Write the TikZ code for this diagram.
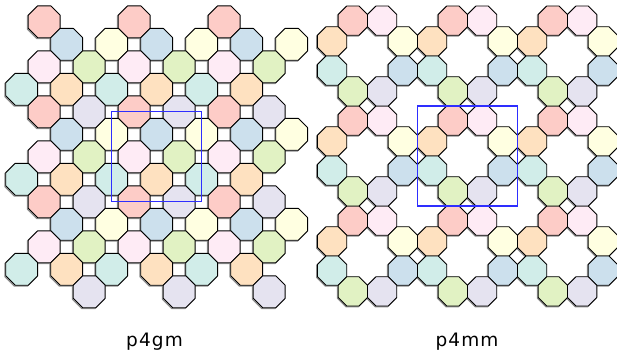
\documentclass[tikz,border=0pt]{standalone}
\usepackage{fontspec}
\setsansfont{DejaVu Sans}[LetterSpace=6]

% pastel fills (Set3 tints)
\definecolor{baseR}{HTML}{FB8072}
\definecolor{baseB}{HTML}{80B1D3}
\definecolor{baseY}{HTML}{FFFFB3}
\definecolor{baseP}{HTML}{FCCDE5}
\definecolor{baseG}{HTML}{B3DE69}
\definecolor{baseT}{HTML}{8DD3C7}
\definecolor{baseO}{HTML}{FDB462}
\definecolor{baseL}{HTML}{BEBADA}
\colorlet{cR}{baseR!40!white}
\colorlet{cB}{baseB!40!white}
\colorlet{cY}{baseY!40!white}
\colorlet{cP}{baseP!40!white}
\colorlet{cG}{baseG!40!white}
\colorlet{cT}{baseT!40!white}
\colorlet{cO}{baseO!40!white}
\colorlet{cL}{baseL!40!white}
\definecolor{cellblue}{HTML}{2E2EFF}

\tikzset{
  pics/octa/.style={code={
    \filldraw[fill=#1, draw=black, line width=0.9, line join=round]
      (22.5:\octR) -- (67.5:\octR) -- (112.5:\octR) -- (157.5:\octR) --
      (202.5:\octR) -- (247.5:\octR) -- (292.5:\octR) -- (337.5:\octR) -- cycle;
  }},
  pics/octshade/.style={code={
    \draw[black!45, line width=1.3, line join=round]
      (22.5:\octR) -- (67.5:\octR) -- (112.5:\octR) -- (157.5:\octR) --
      (202.5:\octR) -- (247.5:\octR) -- (292.5:\octR) -- (337.5:\octR) -- cycle;
  }},
  cellbox/.style={draw=cellblue, line width=1.3},
  caption/.style={font=\sffamily\fontsize{18.5}{22}\selectfont, anchor=base, inner sep=0pt}
}

\begin{document}
\begin{tikzpicture}[x=1pt,y=-1pt]
\useasboundingbox (0,0) rectangle (617,352);

% ---- p4gm: octagons on a diagonal lattice, 3x3 copies of an 8-octagon motif
\def\octR{17.22}
\foreach \c/\i/\j in {cR/1/0, cB/2/1, cY/4/1, cP/1/2, cG/3/2, cT/0/3, cO/2/3, cL/3/4}{
  \foreach \a in {0,1,2}{
    \foreach \b in {0,1,2}{
      \pic at ({21.7+22.5*(\i+4*\a)-0.8}, {21.8+22.5*(\j+4*\b)+0.8}) {octshade};
    }
  }
}
\foreach \c/\i/\j in {cR/1/0, cB/2/1, cY/4/1, cP/1/2, cG/3/2, cT/0/3, cO/2/3, cL/3/4}{
  \foreach \a in {0,1,2}{
    \foreach \b in {0,1,2}{
      \pic at ({21.7+22.5*(\i+4*\a)}, {21.8+22.5*(\j+4*\b)}) {octa=\c};
    }
  }
}
\draw[cellbox] (111.7,111.7) rectangle (201.7,201.7);

% ---- p4mm: rings of eight octagons around octagonal holes
\def\octR{15.85}
\foreach \c/\dx/\dy in {cR/-14.645/-35.36, cP/14.645/-35.36, cO/-35.36/-14.645, cY/35.36/-14.645,
                        cT/-35.36/14.645, cB/35.36/14.645, cG/-14.645/35.36, cL/14.645/35.36}{
  \foreach \a in {0,1,2}{
    \foreach \b in {0,1,2}{
      \pic at ({367.5+100*\a+\dx-0.8}, {56+100*\b+\dy+0.8}) {octshade};
    }
  }
}
\foreach \c/\dx/\dy in {cR/-14.645/-35.36, cP/14.645/-35.36, cO/-35.36/-14.645, cY/35.36/-14.645,
                        cT/-35.36/14.645, cB/35.36/14.645, cG/-14.645/35.36, cL/14.645/35.36}{
  \foreach \a in {0,1,2}{
    \foreach \b in {0,1,2}{
      \pic at ({367.5+100*\a+\dx}, {56+100*\b+\dy}) {octa=\c};
    }
  }
}
\draw[cellbox] (417.5,106) rectangle (517.5,206);

% ---- captions
\node[caption] (capA) at (154.5,346.3) {p4gm};
\node[caption] (capB) at (467,346.3) {p4mm};
\end{tikzpicture}
\end{document}
